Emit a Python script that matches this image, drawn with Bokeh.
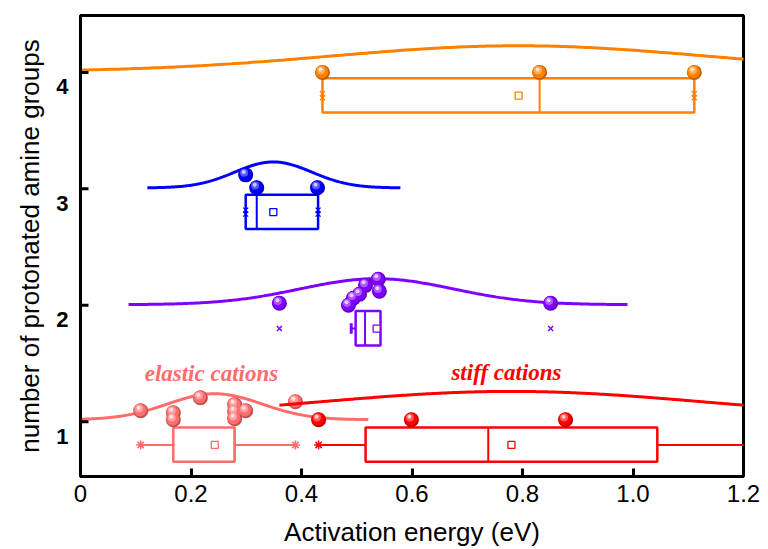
import numpy as np
from bokeh.plotting import figure
from bokeh.models import FixedTicker, Range1d
from bokeh.core.properties import value
from bokeh.embed import file_html
from bokeh.resources import INLINE

# Axis ticks
x_ticks = [0, 0.2, 0.4, 0.6, 0.8, 1.0, 1.2]
x_tick_labels = ["0", "0.2", "0.4", "0.6", "0.8", "1.0", "1.2"]
y_ticks = [1, 2, 3, 4]
y_tick_labels = ["1", "2", "3", "4"]

# Cation sets: elastic (1 group), stiff (1 group), 2, 3 and 4 protonated groups
levels = [1, 1, 2, 3, 4]
colors = ["#FF6C6C", "#FF0000", "#8000FF", "#0000FF", "#FF8000"]

# Activation energies (eV) of the individual cations and their stacked heights
elastic_ea = [0.109, 0.168, 0.168, 0.217, 0.279, 0.279, 0.279, 0.299, 0.389]
elastic_h = [1.094, 1.077, 1.017, 1.206, 1.146, 1.086, 1.026, 1.094, 1.171]
stiff_ea = [0.431, 0.599, 0.878]
stiff_h = [1.017, 1.017, 1.017]
two_ea = [0.360, 0.485, 0.494, 0.505, 0.516, 0.539, 0.541, 0.851]
two_h = [2.017, 2.000, 2.060, 2.094, 2.171, 2.223, 2.120, 2.017]
three_ea = [0.299, 0.319, 0.429]
three_h = [3.120, 3.009, 3.009]
four_ea = [0.438, 0.831, 1.111]
four_h = [4.000, 4.000, 4.000]
points_ea = [elastic_ea, stiff_ea, two_ea, three_ea, four_ea]
points_h = [elastic_h, stiff_h, two_h, three_h, four_h]

# Box statistics (eV)
q1 = [0.168, 0.516, 0.498, 0.299, 0.438]
median = [0.279, 0.738, 0.515, 0.319, 0.831]
q3 = [0.279, 1.044, 0.543, 0.430, 1.111]
whisker_lo = [0.109, 0.431, 0.490, 0.299, 0.438]
whisker_hi = [0.389, 1.300, 0.543, 0.430, 1.111]
mean = [0.243, 0.780, 0.536, 0.349, 0.793]
extreme_lo = [0.109, 0.431, 0.360, 0.299, 0.438]
extreme_hi = [0.389, None, 0.851, 0.430, 1.111]
extreme_marker = ["asterisk", "asterisk", "x", "xx", "xx"]

# Normal distribution curves
curve_mu = [0.243, 0.780, 0.536, 0.349, 0.793]
curve_sd = [0.0854, 0.342, 0.139, 0.070, 0.338]
curve_from = [-0.04, 0.36, 0.087, 0.121, -0.30]
curve_to = [0.521, 1.30, 0.990, 0.579, 1.90]
curve_base = [1.017, 1.037, 2.005, 3.008, 4.006]
curve_height = 0.223

# Annotations
group_names = ["elastic cations", "stiff cations"]
group_name_x = [0.237, 0.771]
group_name_y = [1.41, 1.42]
group_name_colors = ["#FF6C6C", "#FF0000"]

X0, X1 = 0.0, 1.2
Y0, Y1 = 0.529, 4.489
FW, FH = 663, 462
px_x = (X1 - X0) / FW
px_y = (Y1 - Y0) / FH

p = figure(width=768, height=549, output_backend="svg", toolbar_location=None,
           x_range=Range1d(X0, X1), y_range=Range1d(Y0, Y1),
           min_border_left=80, min_border_right=25, min_border_top=15,
           min_border_bottom=72, background_fill_color="white",
           border_fill_color="white")
p.grid.visible = False
p.outline_line_color = "black"
p.outline_line_width = 3


def mix(c, t):
    """Blend a hex colour towards white (t>0) or black (t<0)."""
    r, g, b = (int(c[i:i + 2], 16) for i in (1, 3, 5))
    if t >= 0:
        r, g, b = (int(v + (255 - v) * t) for v in (r, g, b))
    else:
        r, g, b = (int(v * (1 + t)) for v in (r, g, b))
    return "#%02x%02x%02x" % (r, g, b)


def spheres(xs, ys, c):
    xs = np.asarray(xs, float)
    ys = np.asarray(ys, float)
    p.scatter(xs, ys, size=15, fill_color=mix(c, -0.25), line_color=None)
    p.scatter(xs - 0.7 * px_x, ys + 0.7 * px_y, size=13, fill_color=c, line_color=None)
    p.scatter(xs - 1.6 * px_x, ys + 2.2 * px_y, size=8, fill_color=mix(c, 0.35),
              line_color=None)
    p.scatter(xs - 2.0 * px_x, ys + 3.0 * px_y, size=4, fill_color=mix(c, 0.8),
              line_color=None)


for i, lev in enumerate(levels):
    c = colors[i]
    # normal curve
    xs = np.linspace(curve_from[i], curve_to[i], 300)
    ys = curve_base[i] + curve_height * np.exp(-0.5 * ((xs - curve_mu[i]) / curve_sd[i]) ** 2)
    p.line(xs, ys, line_color=c, line_width=3)

    top, bottom, mid = lev - 0.05, lev - 0.345, lev - 0.2
    # whiskers
    p.segment(x0=[whisker_lo[i], q3[i]], y0=[mid, mid], x1=[q1[i], whisker_hi[i]],
              y1=[mid, mid], line_color=c, line_width=2)
    if i == 2:
        p.segment(x0=[whisker_lo[i]], y0=[mid - 0.045], x1=[whisker_lo[i]],
                  y1=[mid + 0.045], line_color=c, line_width=3)
    # box and median
    p.quad(left=[q1[i]], right=[q3[i]], bottom=[bottom], top=[top],
           fill_color=None, line_color=c, line_width=2.5)
    p.segment(x0=[median[i]], y0=[bottom], x1=[median[i]], y1=[top],
              line_color=c, line_width=2)
    # mean
    p.scatter([mean[i]], [mid], marker="square", size=7, fill_color="white",
              line_color=c, line_width=1.3)
    # extremes
    ex = [v for v in (extreme_lo[i], extreme_hi[i]) if v is not None]
    if extreme_marker[i] == "xx":
        for dy in (-2.0, 2.0):
            p.scatter(ex, [mid + dy * px_y] * len(ex), marker="x", size=7,
                      line_color=c, line_width=1.3)
    else:
        p.scatter(ex, [mid] * len(ex), marker=extreme_marker[i],
                  size=9 if extreme_marker[i] == "asterisk" else 7,
                  line_color=c, line_width=1.5)
    # individual cations
    spheres(points_ea[i], points_h[i], c)

p.text(x=group_name_x, y=group_name_y, text=group_names,
       text_color=group_name_colors, text_font=value("Liberation Serif"),
       text_font_style="bold italic", text_font_size="23px",
       text_align="center", text_baseline="middle")

# inward y ticks
p.segment(x0=[X0] * len(y_ticks), y0=y_ticks, x1=[X0 + 8 * px_x] * len(y_ticks),
          y1=y_ticks, line_color="black", line_width=3)

sans = "Liberation Sans"

xa = p.xaxis[0]
xa.ticker = FixedTicker(ticks=x_ticks)
xa.major_label_overrides = {t: s for t, s in zip(x_ticks, x_tick_labels)}
xa.axis_label = "Activation energy (eV)"
xa.axis_line_width = 3
xa.major_tick_in = 8
xa.major_tick_out = 0
xa.major_tick_line_width = 3
xa.minor_tick_line_color = None
xa.major_label_text_font = sans
xa.major_label_text_font_size = "24px"
xa.major_label_text_color = "black"
xa.major_label_standoff = 8
xa.axis_label_text_font = sans
xa.axis_label_text_font_size = "26px"
xa.axis_label_text_font_style = "normal"
xa.axis_label_text_color = "black"
xa.axis_label_standoff = 12

ya = p.yaxis[0]
label_pos = [t - 0.125 for t in y_ticks]
ya.ticker = FixedTicker(ticks=label_pos)
ya.major_label_overrides = {t: s for t, s in zip(label_pos, y_tick_labels)}
ya.axis_label = "number of protonated amine groups"
ya.axis_line_width = 3
ya.major_tick_in = 0
ya.major_tick_out = 0
ya.minor_tick_line_color = None
ya.major_label_text_font = sans
ya.major_label_text_font_style = "bold"
ya.major_label_text_font_size = "22px"
ya.major_label_text_color = "black"
ya.major_label_standoff = 12
ya.axis_label_text_font = sans
ya.axis_label_text_font_size = "26px"
ya.axis_label_text_font_style = "normal"
ya.axis_label_text_color = "black"
ya.axis_label_standoff = 8

open("out.html", "w").write(file_html(p, INLINE))
